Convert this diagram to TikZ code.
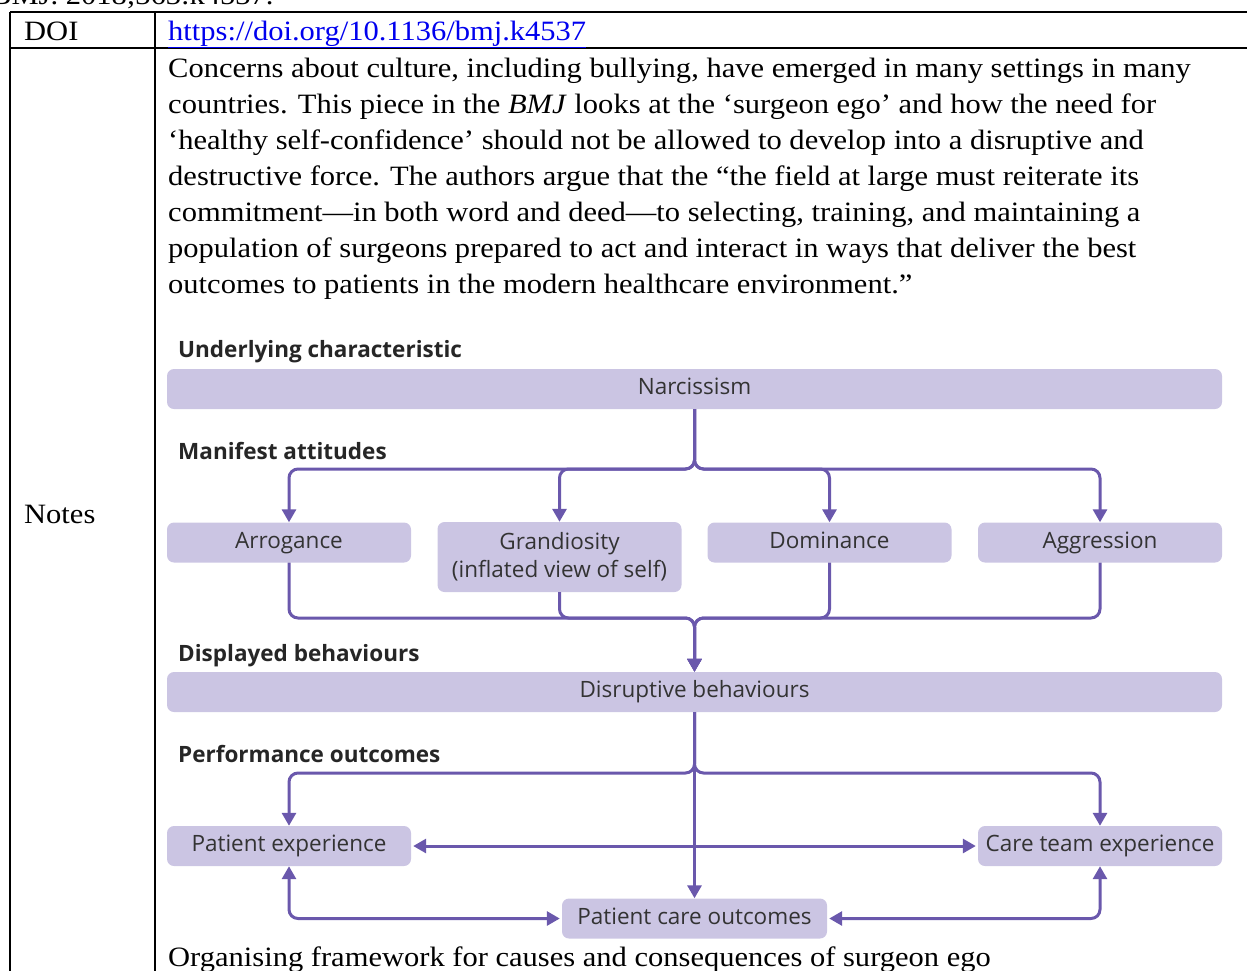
\documentclass[tikz,border=0pt]{standalone}
\usepackage{fontspec}
\setmainfont[FakeStretch=1.09]{Liberation Serif}
\newfontfamily\diagfont{Open Sans}
\usetikzlibrary{arrows.meta,positioning}

\definecolor{boxfill}{RGB}{203,197,227}
\definecolor{linkcol}{RGB}{106,88,172}
\definecolor{urlblue}{RGB}{0,0,238}

\tikzset{
  box/.style={fill=boxfill, rounded corners=7pt, minimum height=40pt, minimum width=244pt, inner sep=0pt,
    font=\diagfont\fontsize{22.5}{28}\selectfont, text=black!80, align=center},
  onebox/.style={box, text height=16pt, text depth=5pt},
  widebox/.style={onebox, minimum width=1055pt},
  head/.style={anchor=base west, inner sep=0pt, font=\diagfont\bfseries\fontsize{22.5}{24}\selectfont, text=black!85},
  link/.style={draw=linkcol, line width=3pt, rounded corners=9pt},
  arr/.style={link, -{Triangle[length=13pt,width=14pt]}},
  dbl/.style={link, {Triangle[length=13pt,width=14pt]}-{Triangle[length=13pt,width=14pt]}},
  cell/.style={anchor=base west, inner sep=0pt, font=\fontsize{28}{36}\selectfont},
}

\begin{document}
\begin{tikzpicture}[x=1pt,y=-1pt]
  \useasboundingbox (0,0) rectangle (1247,970);
  \clip (0,0) rectangle (1247,970);

  % table
  \draw[line width=2pt] (10,12) -- (1260,12);
  \draw[line width=2pt] (10,48) -- (1260,48);
  \draw[line width=2pt] (10,12) -- (10,980);
  \draw[line width=2pt] (155,12) -- (155,980);

  \node[cell] (ref) at (-9,4) {BMJ. 2018;363:k4537.};
  \node[cell] (doi) at (24,40) {DOI};
  \node[cell] (url) at (168,40) {\color{urlblue}\underline{https://doi.org/10.1136/bmj.k4537}};
  \node[cell] (notes) at (24,523) {Notes};
  \node[cell, anchor=north west, align=left] (para) at (168,58) {%
    Concerns about culture, including bullying, have emerged in many settings in many\\
    countries. This piece in the \textit{BMJ} looks at the ‘surgeon ego’ and how the need for\\
    ‘healthy self-confidence’ should not be allowed to develop into a disruptive and\\
    destructive force. The authors argue that the “the field at large must reiterate its\\
    commitment—in both word and deed—to selecting, training, and maintaining a\\
    population of surgeons prepared to act and interact in ways that deliver the best\\
    outcomes to patients in the modern healthcare environment.”};
  \node[cell] (caption) at (168,966) {Organising framework for causes and consequences of surgeon ego};

  % headings
  \node[head] (h1) at (178,357) {Underlying characteristic};
  \node[head] (h2) at (178,459) {Manifest attitudes};
  \node[head] (h3) at (178,661) {Displayed behaviours};
  \node[head] (h4) at (178,762) {Performance outcomes};

  % boxes
  \node[widebox] (narc) at (694.5,389) {Narcissism};
  \node[onebox] (arro) at (289,542.5) {Arrogance};
  \node[box, minimum height=70pt] (grand) at (559.5,557) {Grandiosity\\(inflated view of self)};
  \node[onebox] (domi) at (829.5,542.5) {Dominance};
  \node[onebox] (aggr) at (1100,542.5) {Aggression};
  \node[widebox] (disr) at (694.5,692) {Disruptive behaviours};
  \node[onebox] (pexp) at (289,846) {Patient experience};
  \node[onebox] (cexp) at (1100,846) {Care team experience};
  \node[onebox, minimum width=265pt] (pco) at (694.5,918.5) {Patient care outcomes};

  \coordinate (split) at (694.5,469);
  \coordinate (merge) at (694.5,618);
  \coordinate (fork) at (694.5,773);

  % narcissism to attitudes
  \draw[arr] (narc.south) -- (split) -| (arro.north);
  \draw[arr] (narc.south) -- (split) -| (grand.north);
  \draw[arr] (narc.south) -- (split) -| (domi.north);
  \draw[arr] (narc.south) -- (split) -| (aggr.north);

  % attitudes to behaviours
  \draw[arr] (arro.south) |- (merge) -- (disr.north);
  \draw[arr] (grand.south) |- (merge) -- (disr.north);
  \draw[arr] (domi.south) |- (merge) -- (disr.north);
  \draw[arr] (aggr.south) |- (merge) -- (disr.north);

  % behaviours to outcomes
  \draw[arr] (disr.south) -- (fork) -| (pexp.north);
  \draw[arr] (disr.south) -- (fork) -| (cexp.north);
  \draw[arr] (disr.south) -- (pco.north);

  \draw[dbl, shorten <=2pt, shorten >=2pt] (pexp.east) -- (cexp.west);
  \draw[dbl, shorten >=2pt] (pexp.south) |- (pco.west);
  \draw[dbl, shorten >=2pt] (cexp.south) |- (pco.east);
\end{tikzpicture}
\end{document}
